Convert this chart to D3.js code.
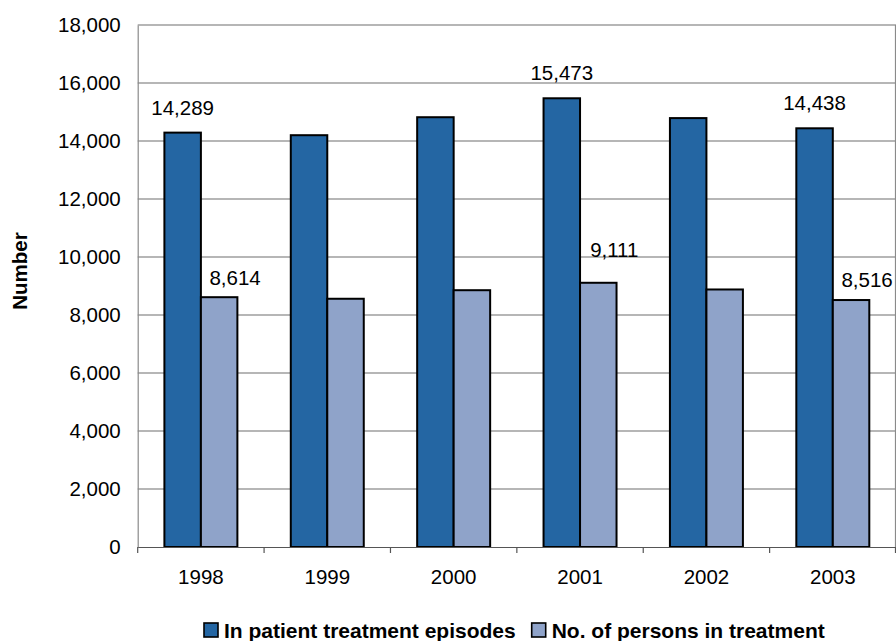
<!DOCTYPE html>
<html><head><meta charset="utf-8">
<script src="https://cdn.jsdelivr.net/npm/d3@7"></script>
<style>
body{margin:0;background:#fff;}
svg{display:block;font-family:"Liberation Sans",Arial,sans-serif;}
</style></head>
<body><svg id="c" width="896" height="641"></svg>
<script>
const years = ["1998","1999","2000","2001","2002","2003"];
const seriesNames = ["In patient treatment episodes","No. of persons in treatment"];
const episodes = [14289, 14200, 14820, 15473, 14790, 14438];
const persons = [8614, 8560, 8855, 9111, 8880, 8516];
const labelledYears = ["1998","2001","2003"];
const yTicks = [0,2000,4000,6000,8000,10000,12000,14000,16000,18000];
const colors = ["#2466A3","#8FA3C9"];
// label placement offsets (dx, dy) for persons labels
const personLabelOffsets = [[16,-12],[16,-26],[16,-13]];

const svg = d3.select("#c");
const L = 137.7, R = 896, T = 25, B = 547;
const x = d3.scaleBand().domain(years).range([L, R]).padding(0);
const bw = x.bandwidth();
const x1 = d3.scaleBand().domain([0,1]).range([26.7, bw - 26.7]).padding(0);
const y = d3.scaleLinear().domain([0, 18000]).range([B, T]);
const fmt = d3.format(",");

// gridlines
svg.append("g").selectAll("line").data(yTicks.filter(d=>d>0)).join("line")
  .attr("x1", L).attr("x2", R).attr("y1", d=>y(d)).attr("y2", d=>y(d))
  .attr("stroke", "#6e6e6e").attr("stroke-width", 1.2);
// right border
svg.append("line").attr("x1", R-0.5).attr("x2", R-0.5).attr("y1", T).attr("y2", B).attr("stroke","#8a8a8a").attr("stroke-width",1.2);

// y axis
const yAxis = d3.axisLeft(y).tickValues(yTicks).tickFormat(fmt).tickSize(0).tickPadding(17);
const gy = svg.append("g").attr("transform", `translate(${L},0)`).call(yAxis);
gy.select(".domain").attr("stroke", "#8a8a8a").attr("stroke-width", 1.2);
gy.selectAll("text").attr("font-size", "20.5px").attr("fill", "#000").attr("font-family","Liberation Sans, Arial, sans-serif");

// bars
const data = years.map((yr,i)=>({year:yr, vals:[episodes[i], persons[i]]}));
const groups = svg.append("g").selectAll("g").data(data).join("g")
  .attr("transform", d=>`translate(${x(d.year)},0)`);
groups.selectAll("rect").data(d=>d.vals.map((v,j)=>({v,j}))).join("rect")
  .attr("x", d=>x1(d.j)).attr("width", x1.bandwidth())
  .attr("y", d=>y(d.v)).attr("height", d=>B - y(d.v))
  .attr("fill", d=>colors[d.j]).attr("stroke", "#000").attr("stroke-width", 2);

// x axis
const xAxis = d3.axisBottom(x).tickSize(0).tickPadding(22.5);
const gx = svg.append("g").attr("transform", `translate(0,${B})`).call(xAxis);
gx.select(".domain").attr("stroke", "#555").attr("stroke-width", 1.2);
gx.selectAll("text").attr("font-size", "20.5px").attr("fill", "#000").attr("font-family","Liberation Sans, Arial, sans-serif");
svg.append("g").selectAll("line").data(years.concat(["end"])).join("line")
  .attr("x1", d=> d==="end" ? R-0.5 : x(d)).attr("x2", d=> d==="end" ? R-0.5 : x(d))
  .attr("y1", B).attr("y2", B+6).attr("stroke", "#555").attr("stroke-width", 1.2);

// data labels
labelledYears.forEach((yr,k)=>{
  const i = years.indexOf(yr);
  svg.append("text").attr("x", x(yr) + x1(0) + x1.bandwidth()/2).attr("y", y(episodes[i]) - 17.8)
    .attr("text-anchor","middle").attr("font-size","20.5px").text(fmt(episodes[i]));
  const o = personLabelOffsets[k];
  svg.append("text").attr("x", x(yr) + x1(1) + x1.bandwidth()/2 + o[0]).attr("y", y(persons[i]) + o[1])
    .attr("text-anchor","middle").attr("font-size","20.5px").text(fmt(persons[i]));
});

// y title
svg.append("text").attr("transform","translate(27,271) rotate(-90)").attr("text-anchor","middle")
  .attr("font-size","20.5px").attr("font-weight","bold").text("Number");

// legend
const legX = [204, 531.7];
seriesNames.forEach((s,j)=>{
  svg.append("rect").attr("x", legX[j]).attr("y", 623).attr("width", 14).attr("height", 14)
    .attr("fill", colors[j]).attr("stroke","#000").attr("stroke-width",1.6);
  svg.append("text").attr("x", legX[j]+20).attr("y", 637.5).attr("font-size","21px")
    .attr("font-weight","bold").text(s);
});
</script></body></html>
